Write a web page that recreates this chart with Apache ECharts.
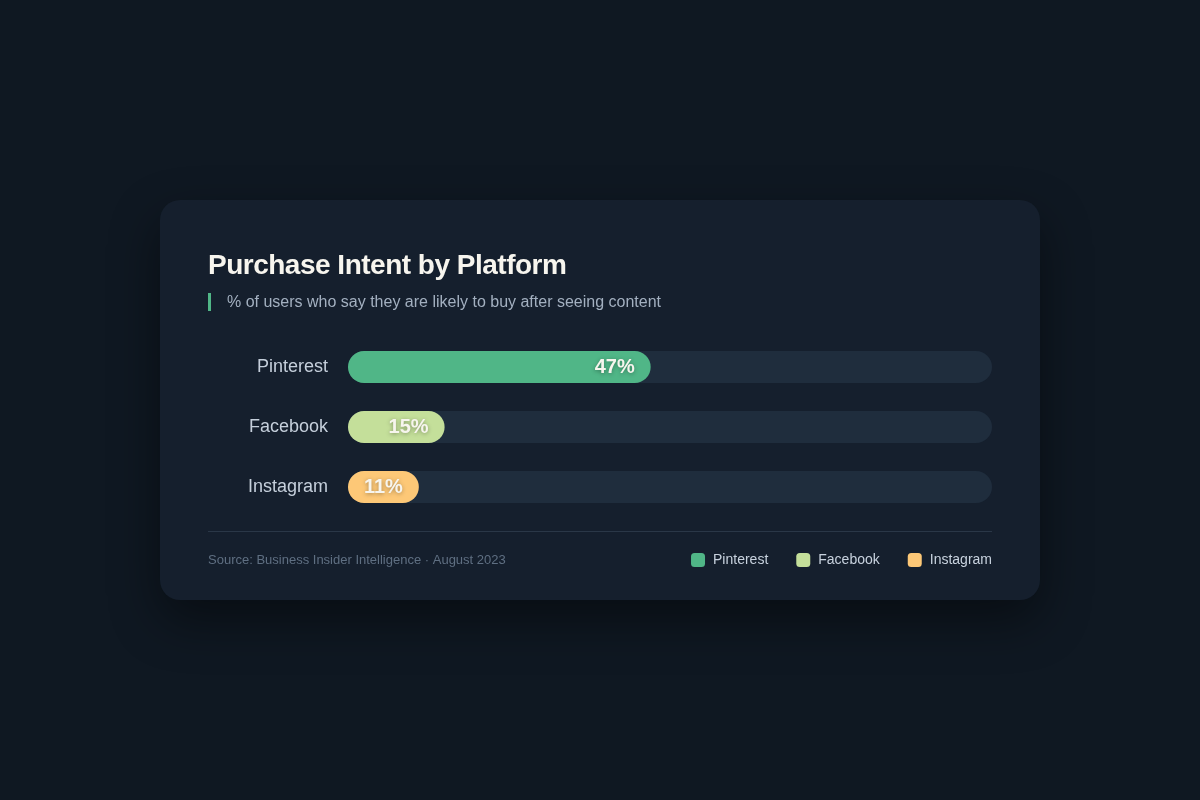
<!DOCTYPE html>
<html>
<head>
<meta charset="utf-8">
<script src="https://cdn.jsdelivr.net/npm/echarts@6/dist/echarts.min.js"></script>
<style>
  html, body { margin: 0; padding: 0; width: 1200px; height: 800px; background: #0f1822; overflow: hidden; }
  #card { position: absolute; left: 160px; top: 200px; width: 880px; height: 400px; background: #151f2d; border-radius: 20px; box-shadow: 0 20px 50px rgba(0,0,0,0.45); overflow: hidden; }
  #chart { position: absolute; left: 0; top: 0; width: 880px; height: 400px; }
  #title { position: absolute; left: 48px; top: 48px; margin: 0; font-family: "Liberation Sans", Arial, Helvetica, sans-serif; font-size: 28px; line-height: 34px; font-weight: bold; letter-spacing: -0.5px; color: #f7f5ee; white-space: nowrap; z-index: 2; }
</style>
</head>
<body>
<div id="card"><div id="chart"></div><h1 id="title"></h1></div>
<script>
const titleText = 'Purchase Intent by Platform';
const subtitleText = '% of users who say they are likely to buy after seeing content';
const sourceText = 'Source: Business Insider Intelligence · August 2023';
const categories = ['Pinterest', 'Facebook', 'Instagram'];
const values = [47, 15, 11];
const colors = ['#50b687', '#c4df9a', '#fdc877'];
const trackMax = 100;

document.getElementById('title').textContent = titleText;

const FONT = '"Liberation Sans", Arial, Helvetica, sans-serif';
const chart = echarts.init(document.getElementById('chart'), null, { renderer: 'canvas' });

const series = [{
  name: 'track',
  type: 'bar',
  data: categories.map(() => trackMax),
  barWidth: 32,
  barGap: '-100%',
  silent: true,
  itemStyle: { color: '#1f2d3d', borderRadius: 16 },
  z: 1
}];
categories.forEach((c, i) => {
  series.push({
    name: c,
    type: 'bar',
    barWidth: 32,
    barGap: '-100%',
    data: categories.map((_, j) => j === i ? values[i] : '-'),
    itemStyle: { color: colors[i], borderRadius: 16 },
    label: {
      show: true,
      position: 'insideRight',
      distance: 16,
      formatter: '{c}%',
      fontFamily: FONT,
      fontSize: 20,
      fontWeight: 'bold',
      color: '#f7f5ee',
      textShadowColor: 'rgba(0,0,0,0.35)',
      textShadowBlur: 4,
      textShadowOffsetY: 1
    },
    z: 2
  });
});

chart.setOption({
  backgroundColor: 'transparent',
  animation: false,
  grid: { left: 188, right: 48, top: 137, bottom: 83, containLabel: false },
  xAxis: { type: 'value', min: 0, max: trackMax, show: false },
  yAxis: {
    type: 'category',
    data: categories,
    inverse: true,
    axisLine: { show: false },
    axisTick: { show: false },
    splitLine: { show: false },
    axisLabel: { margin: 20, fontSize: 18, color: '#c5cfdb', fontFamily: FONT }
  },
  legend: {
    data: categories,
    right: 48,
    top: 353,
    padding: 0,
    itemWidth: 14,
    itemHeight: 14,
    itemGap: 28,
    icon: 'roundRect',
    textStyle: { fontSize: 14, color: '#c8d2de', fontFamily: FONT, padding: [0, 0, 0, 3] },
    selectedMode: false
  },
  graphic: [
    { type: 'rect', shape: { x: 48, y: 93, width: 3, height: 18 }, style: { fill: '#50b687' } },
    { type: 'text', left: 67, top: 95, style: { text: subtitleText, fontSize: 16, fill: '#a3b0c0', fontFamily: FONT } },
    { type: 'line', shape: { x1: 48, y1: 331.5, x2: 832, y2: 331.5 }, style: { stroke: '#2a3747', lineWidth: 1 } },
    { type: 'text', left: 48, top: 354, style: { text: sourceText, fontSize: 13, fill: '#5f6f82', fontFamily: FONT } }
  ],
  series: series
});
</script>
</body>
</html>
